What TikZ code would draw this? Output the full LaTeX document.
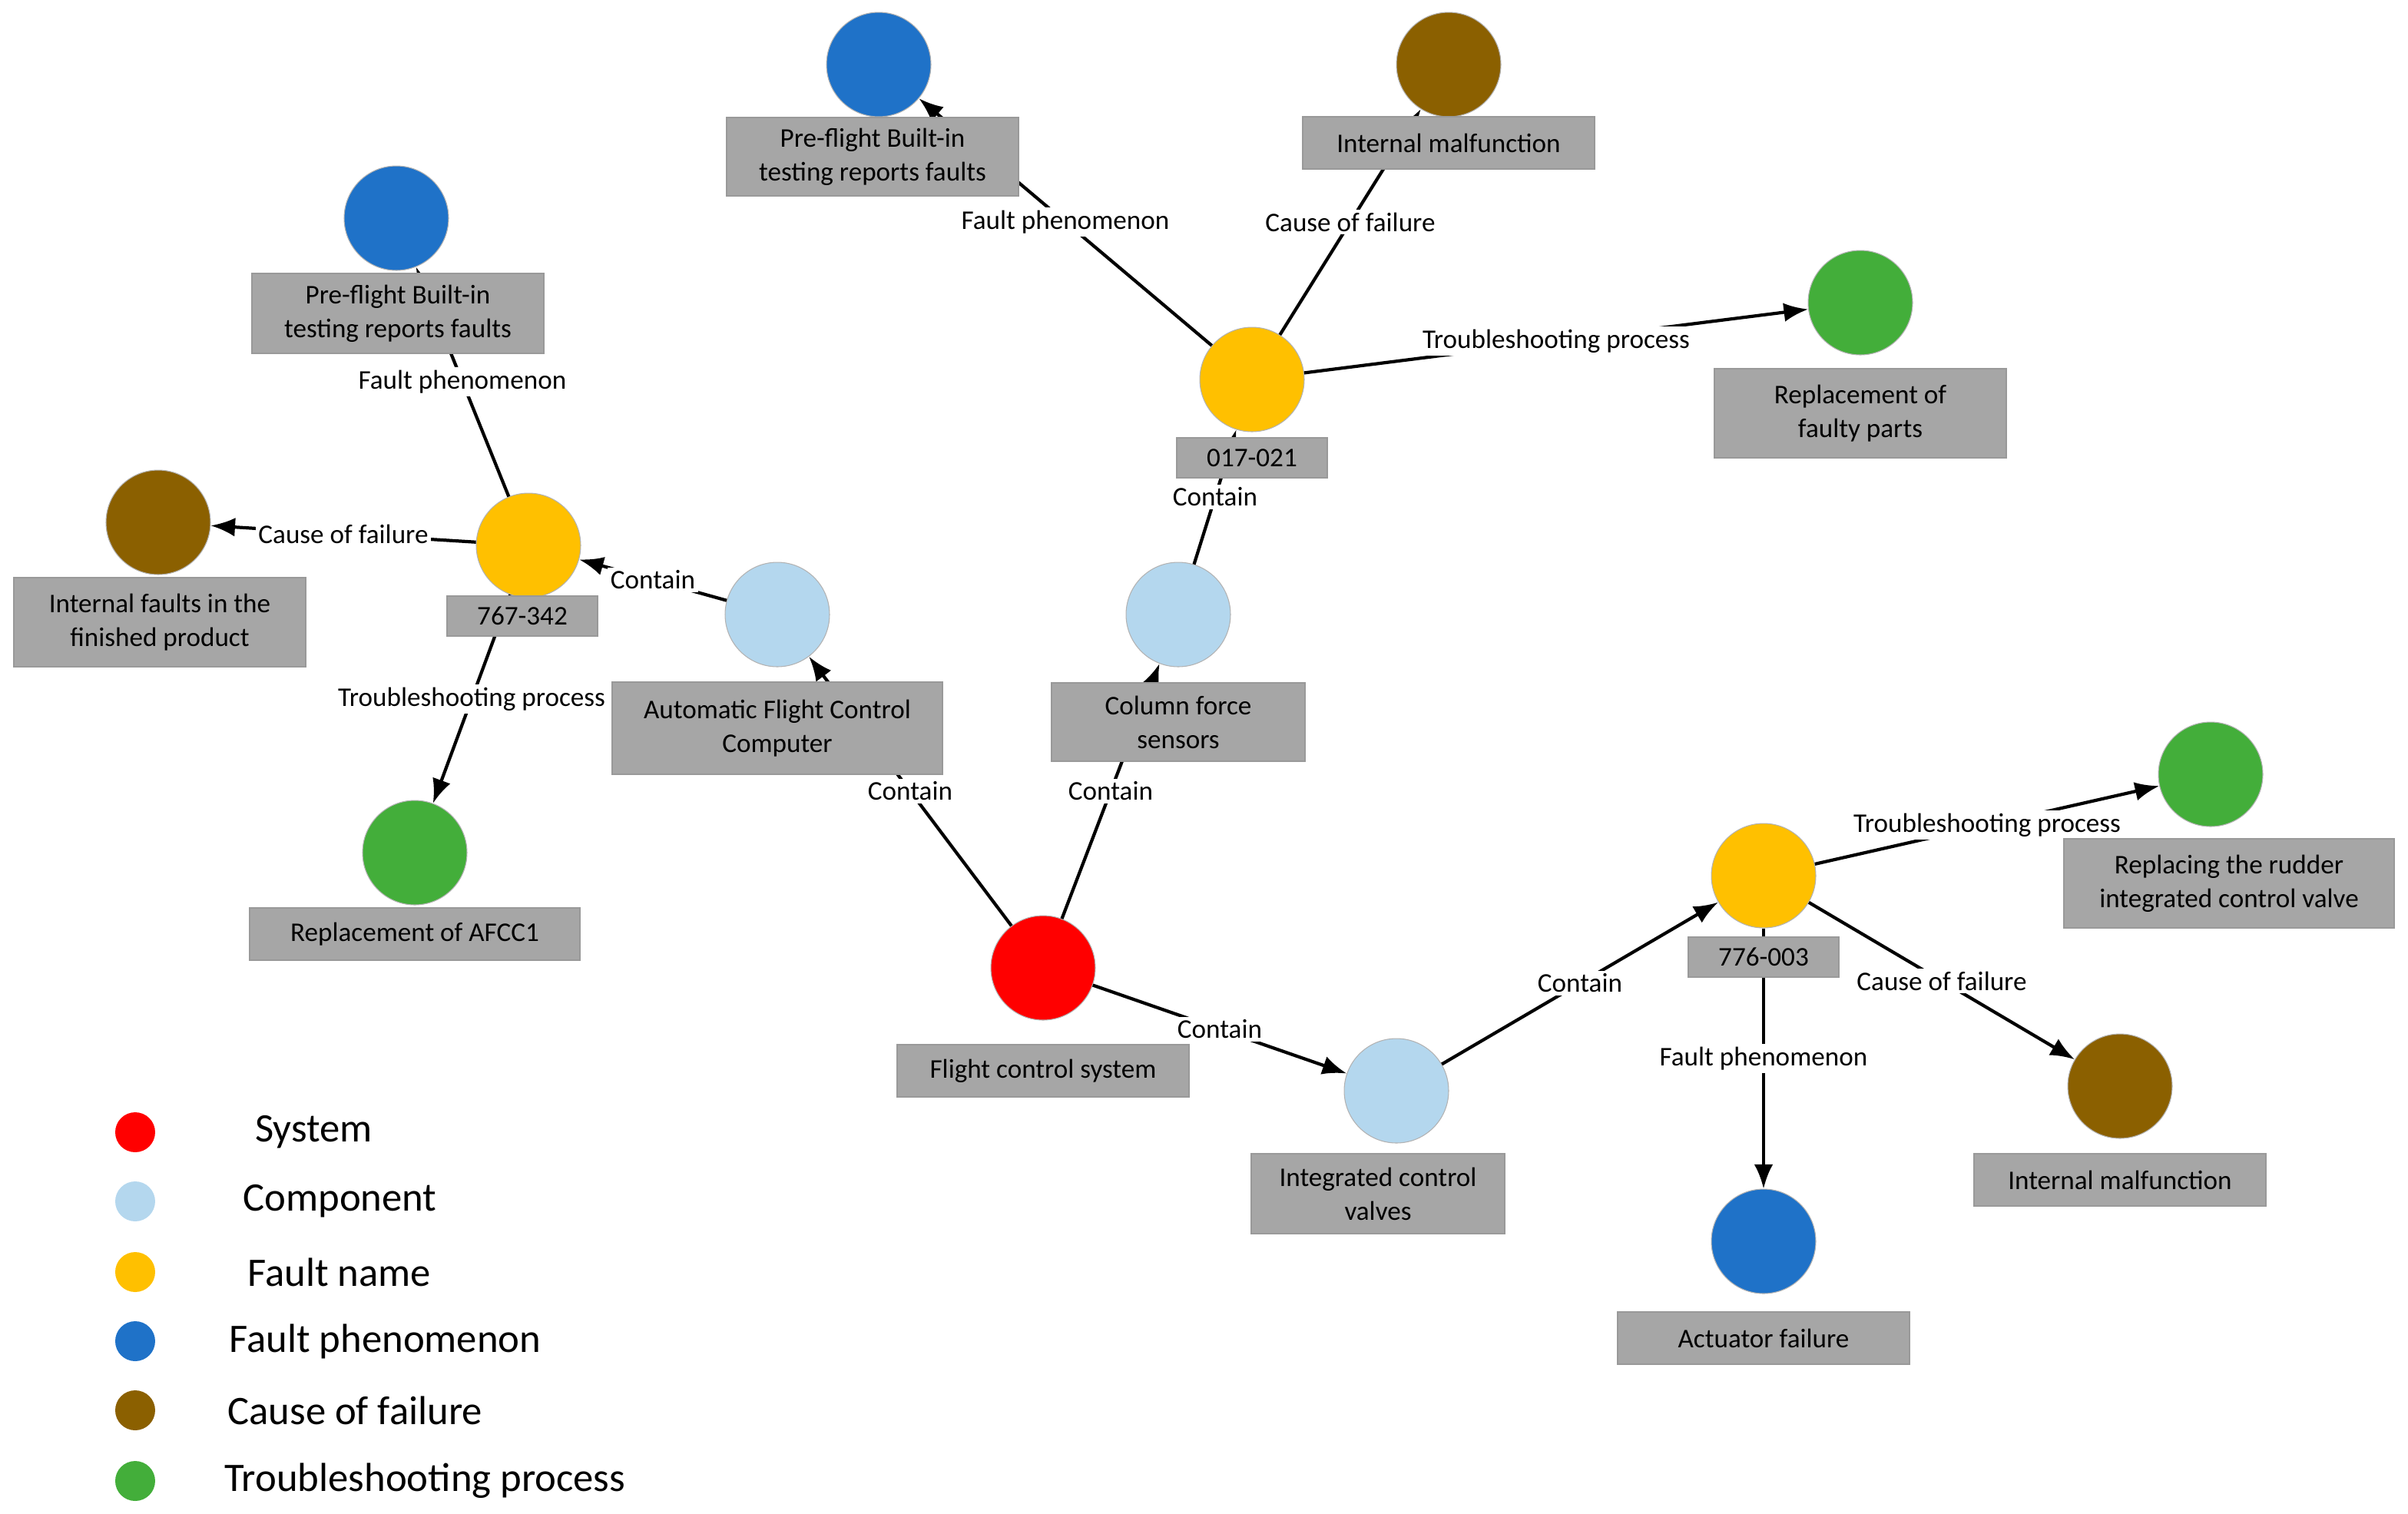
\documentclass[tikz,border=0pt]{standalone}
\usepackage{fontspec}
\setmainfont{Carlito}
\usetikzlibrary{arrows.meta}
\definecolor{cSys}{HTML}{FF0000}
\definecolor{cComp}{HTML}{B4D7EE}
\definecolor{cFault}{HTML}{FFC000}
\definecolor{cPhen}{HTML}{1F72C8}
\definecolor{cCause}{HTML}{8B6000}
\definecolor{cTrb}{HTML}{43AE3A}
\definecolor{cBox}{HTML}{A6A6A6}
\begin{document}
\begin{tikzpicture}[x=0.02cm,y=-0.02cm,
  ball/.style={circle,minimum size=1.36cm,inner sep=0,draw=gray!60,line width=0.3pt},
  box/.style={rectangle,fill=cBox,draw=gray!80,line width=0.4pt,align=center,font=\fontsize{10}{12.5}\selectfont,inner sep=1pt},
  edge/.style={line width=1.2pt,-{Latex[length=9pt,width=7pt]}},
  elab/.style={fill=white,inner sep=1pt,font=\fontsize{10}{12}\selectfont,midway},
  lball/.style={circle,minimum size=0.52cm,inner sep=0},
  ltxt/.style={anchor=west,font=\fontsize{15}{18}\selectfont}]
\useasboundingbox (0,0) rectangle (1567.5,985);
% circles
\node[ball,fill=cSys] (sys) at (679,630) {};
\node[ball,fill=cComp] (afcc) at (506,400) {};
\node[ball,fill=cComp] (cfs) at (767,400) {};
\node[ball,fill=cComp] (icv) at (909,710) {};
\node[ball,fill=cFault] (f767) at (344,355) {};
\node[ball,fill=cFault] (f017) at (815,247) {};
\node[ball,fill=cFault] (f776) at (1148,570) {};
\node[ball,fill=cPhen] (p1) at (258,142) {};
\node[ball,fill=cCause] (c1) at (103,340) {};
\node[ball,fill=cTrb] (t1) at (270,555) {};
\node[ball,fill=cPhen] (p2) at (572,42) {};
\node[ball,fill=cCause] (c2) at (943,42) {};
\node[ball,fill=cTrb] (t2) at (1211,197) {};
\node[ball,fill=cTrb] (t3) at (1439,504) {};
\node[ball,fill=cCause] (c3) at (1380,707) {};
\node[ball,fill=cPhen] (p3) at (1148,808) {};
% edges
\draw[edge] (sys) -- node[elab]{Contain} (afcc);
\draw[edge] (sys) -- node[elab]{Contain} (cfs);
\draw[edge] (sys) -- node[elab]{Contain} (icv);
\draw[edge] (icv) -- node[elab]{Contain} (f776);
\draw[edge] (cfs) -- node[elab]{Contain} (f017);
\draw[edge] (afcc) -- node[elab]{Contain} (f767);
\draw[edge] (f767) -- node[elab]{Fault phenomenon} (p1);
\draw[edge] (f767) -- node[elab]{Cause of failure} (c1);
\draw[edge] (f767) -- node[elab]{Troubleshooting process} (t1);
\draw[edge] (f017) -- node[elab]{Fault phenomenon} (p2);
\draw[edge] (f017) -- node[elab]{Cause of failure} (c2);
\draw[edge] (f017) -- node[elab]{Troubleshooting process} (t2);
\draw[edge] (f776) -- node[elab]{Troubleshooting process} (t3);
\draw[edge] (f776) -- node[elab]{Cause of failure} (c3);
\draw[edge] (f776) -- node[elab]{Fault phenomenon} (p3);
% labels
\node[box,minimum width=3.8cm,minimum height=0.68cm] (sysL) at (679,697) {Flight control system};
\node[box,minimum width=4.3cm,minimum height=1.2cm] (afccL) at (506,474) {Automatic Flight Control\\Computer};
\node[box,minimum width=3.3cm,minimum height=1.02cm] (cfsL) at (767,470) {Column force\\sensors};
\node[box,minimum width=3.3cm,minimum height=1.04cm] (icvL) at (897,777) {Integrated control\\valves};
\node[box,minimum width=1.96cm,minimum height=0.52cm] (f767L) at (340,401) {767-342};
\node[box,minimum width=1.96cm,minimum height=0.52cm] (f017L) at (815,298) {017-021};
\node[box,minimum width=1.96cm,minimum height=0.52cm] (f776L) at (1148,623) {776-003};
\node[box,minimum width=3.8cm,minimum height=1.04cm] (p1L) at (259,204) {Pre-flight Built-in\\testing reports faults};
\node[box,minimum width=3.8cm,minimum height=1.16cm] (c1L) at (104,405) {Internal faults in the\\finished product};
\node[box,minimum width=4.3cm,minimum height=0.68cm] (t1L) at (270,608) {Replacement of AFCC1};
\node[box,minimum width=3.8cm,minimum height=1.02cm] (p2L) at (568,102) {Pre-flight Built-in\\testing reports faults};
\node[box,minimum width=3.8cm,minimum height=0.68cm] (c2L) at (943,93) {Internal malfunction};
\node[box,minimum width=3.8cm,minimum height=1.16cm] (t2L) at (1211,269) {Replacement of\\faulty parts};
\node[box,minimum width=4.3cm,minimum height=1.16cm] (t3L) at (1451,575) {Replacing the rudder\\integrated control valve};
\node[box,minimum width=3.8cm,minimum height=0.68cm] (c3L) at (1380,768) {Internal malfunction};
\node[box,minimum width=3.8cm,minimum height=0.68cm] (p3L) at (1148,871) {Actuator failure};
% legend
\node[lball,fill=cSys] (lg1) at (88,737) {};
\node[lball,fill=cComp] (lg2) at (88,782) {};
\node[lball,fill=cFault] (lg3) at (88,828) {};
\node[lball,fill=cPhen] (lg4) at (88,873) {};
\node[lball,fill=cCause] (lg5) at (88,918) {};
\node[lball,fill=cTrb] (lg6) at (88,964) {};
\node[ltxt] (lt1) at (160,737) {System};
\node[ltxt] (lt2) at (152,782) {Component};
\node[ltxt] (lt3) at (155,828) {Fault name};
\node[ltxt] (lt4) at (143,873) {Fault phenomenon};
\node[ltxt] (lt5) at (142,918) {Cause of failure};
\node[ltxt] (lt6) at (140,964) {Troubleshooting process};
\end{tikzpicture}
\end{document}
